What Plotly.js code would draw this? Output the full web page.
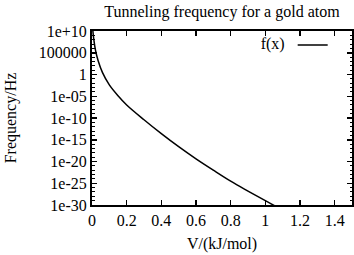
<!DOCTYPE html>
<html>
<head>
<meta charset="utf-8">
<script src="https://cdn.plot.ly/plotly-3.0.1.min.js"></script>
<style>
html,body{margin:0;padding:0;background:#fff;}
#chart{width:354px;height:255px;}
#chart text{font-family:'Liberation Serif','DejaVu Serif',serif !important;}
</style>
</head>
<body>
<div id="chart"></div>
<script>
// Values
const voltage = [0.004, 0.01, 0.02, 0.035, 0.06, 0.1, 0.15, 0.2, 0.3, 0.4, 0.5, 0.6, 0.7, 0.8, 0.9, 1.0, 1.05, 1.1];
const frequency = [3e10, 1.6e8, 4e5, 1.6e3, 3, 4e-3, 1.3e-5, 1e-7, 4e-11, 2.5e-14, 2.5e-17, 4e-20, 1e-22, 3e-25, 1.6e-27, 1e-29, 8e-31, 6e-32];
const yTickVals = [1e10, 1e5, 1, 1e-5, 1e-10, 1e-15, 1e-20, 1e-25, 1e-30];
const yTickText = ["1e+10", "100000", "1", "1e-05", "1e-10", "1e-15", "1e-20", "1e-25", "1e-30"];
const yMinorVals = [];
for (let e = -30; e <= 10; e++) yMinorVals.push(Math.pow(10, e));
const xTickVals = [0, 0.2, 0.4, 0.6, 0.8, 1, 1.2, 1.4];
const xTickText = ["0", "0.2", "0.4", "0.6", "0.8", "1", "1.2", "1.4"];

const font = {family: "'Liberation Serif', 'DejaVu Serif', serif", size: 16, color: "#000"};

const trace = {
  x: voltage, y: frequency, type: "scatter", mode: "lines",
  line: {color: "#000", width: 1.5, shape: "spline", smoothing: 1},
  name: "", showlegend: true
};

const layout = {
  width: 354, height: 255,
  margin: {l: 92, r: 2, t: 31, b: 50, pad: 0},
  paper_bgcolor: "#fff", plot_bgcolor: "#fff",
  font: font,
  title: {text: "Tunneling frequency for a gold atom", font: font, x: 0.627, xanchor: "center", y: 0.955, yanchor: "middle"},
  xaxis: {
    range: [0, 1.5], tickvals: xTickVals, ticktext: xTickText,
    ticks: "inside", ticklen: 5, tickwidth: 1.5, tickcolor: "#000",
    showline: true, linecolor: "#000", linewidth: 2, mirror: "ticks",
    showgrid: false, zeroline: false, tickfont: font,
    title: {text: "V/(kJ/mol)", font: font, standoff: 10}
  },
  yaxis: {
    type: "log", range: [-30, 10], tickvals: yTickVals, ticktext: yTickText,
    ticks: "inside", ticklen: 5, tickwidth: 1.5, tickcolor: "#000",
    minor: {tickvals: yMinorVals, ticks: "inside", ticklen: 2.5, tickcolor: "#000", tickwidth: 1},
    showline: true, linecolor: "#000", linewidth: 2, mirror: "ticks",
    showgrid: false, zeroline: false, tickfont: font,
    title: {text: "Frequency/Hz", font: font, standoff: 18}
  },
  legend: {
    x: 0.945, xanchor: "right", y: 1.017, yanchor: "top",
    bgcolor: "rgba(0,0,0,0)", borderwidth: 0, font: font,
    title: {text: "f(x)", side: "left", font: font}
  },
  showlegend: true
};

Plotly.newPlot("chart", [trace], layout, {displayModeBar: false, staticPlot: true});
</script>
</body>
</html>
